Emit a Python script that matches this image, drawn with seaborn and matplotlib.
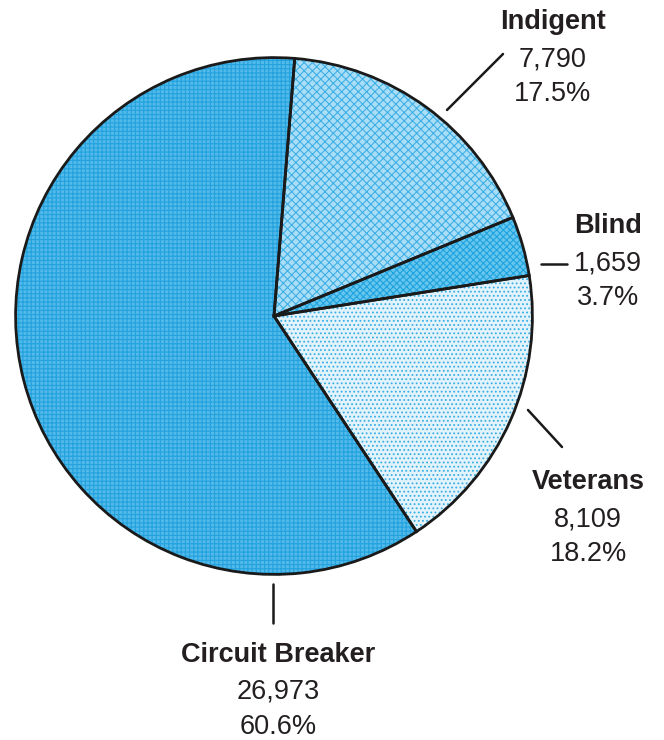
import matplotlib
matplotlib.use("Agg")
import matplotlib.pyplot as plt
import seaborn as sns

categories = ["Indigent", "Blind", "Veterans", "Circuit Breaker"]
counts = [7790, 1659, 8109, 26973]
count_labels = ["7,790", "1,659", "8,109", "26,973"]
pct_labels = ["17.5%", "3.7%", "18.2%", "60.6%"]

sns.set_theme(style="white")
plt.rcParams['font.family'] = ['Liberation Sans Narrow', 'Liberation Sans', 'DejaVu Sans']
plt.rcParams['hatch.linewidth'] = 0.8

W, H = 664, 740
fig = plt.figure(figsize=(W / 100, H / 100), dpi=100)
cx, cy, r = 274, 316, 261
ax = fig.add_axes([(cx - r) / W, (H - cy - r) / H, 2 * r / W, 2 * r / H])

face = ["#aadef6", "#66c6ee", "#e2f3fb", "#52b9e9"]
hatch_col = ["#3fb0e6", "#1fa3df", "#39aee4", "#22a2de"]
hatches = ["xxxx", "xxxxx", "....", "++++"]

# textured fill, one wedge per layer so each has its own hatch colour
for j in range(len(counts)):
    ws, _ = ax.pie(counts, startangle=85.4, counterclock=False, radius=1,
                   colors=face, wedgeprops=dict(linewidth=0))
    for k, w in enumerate(ws):
        if k != j:
            w.remove()
        else:
            w.set_hatch(hatches[k])
            w.set_edgecolor(hatch_col[k])
            w.set_linewidth(0)

# outline layer
ax.pie(counts, startangle=85.4, counterclock=False, radius=1,
       colors=["none"] * len(counts),
       wedgeprops=dict(linewidth=2.0, edgecolor="#1a1a1a", fill=False))
ax.set_xlim(-1.01, 1.01)
ax.set_ylim(-1.01, 1.01)
ax.set_aspect("equal")
ax.axis("off")

def fx(x):
    return x / W

def fy(y):
    return 1 - y / H

label_pos = {
    "Indigent": (553, 22),
    "Blind": (608, 226),
    "Veterans": (588, 482),
    "Circuit Breaker": (278, 655),
}
line_pos = {
    "Indigent": ((447, 110), (503, 54)),
    "Blind": ((541, 264), (567, 264)),
    "Veterans": ((528, 410), (562, 447)),
    "Circuit Breaker": ((273, 584), (273, 623)),
}
fs = 19.5
for name, cl, pl in zip(categories, count_labels, pct_labels):
    x, y = label_pos[name]
    fig.text(fx(x), fy(y), name, ha="center", va="center", fontsize=fs,
             fontweight="bold", color="#231f20")
    fig.text(fx(x), fy(y + 37), cl, ha="center", va="center", fontsize=fs,
             color="#231f20")
    fig.text(fx(x), fy(y + 72), pl, ha="center", va="center", fontsize=fs,
             color="#231f20")
    (x0, y0), (x1, y1) = line_pos[name]
    fig.add_artist(plt.Line2D([fx(x0), fx(x1)], [fy(y0), fy(y1)],
                              transform=fig.transFigure, color="#1a1a1a", lw=1.8))

fig.savefig("out.png", dpi=100)
